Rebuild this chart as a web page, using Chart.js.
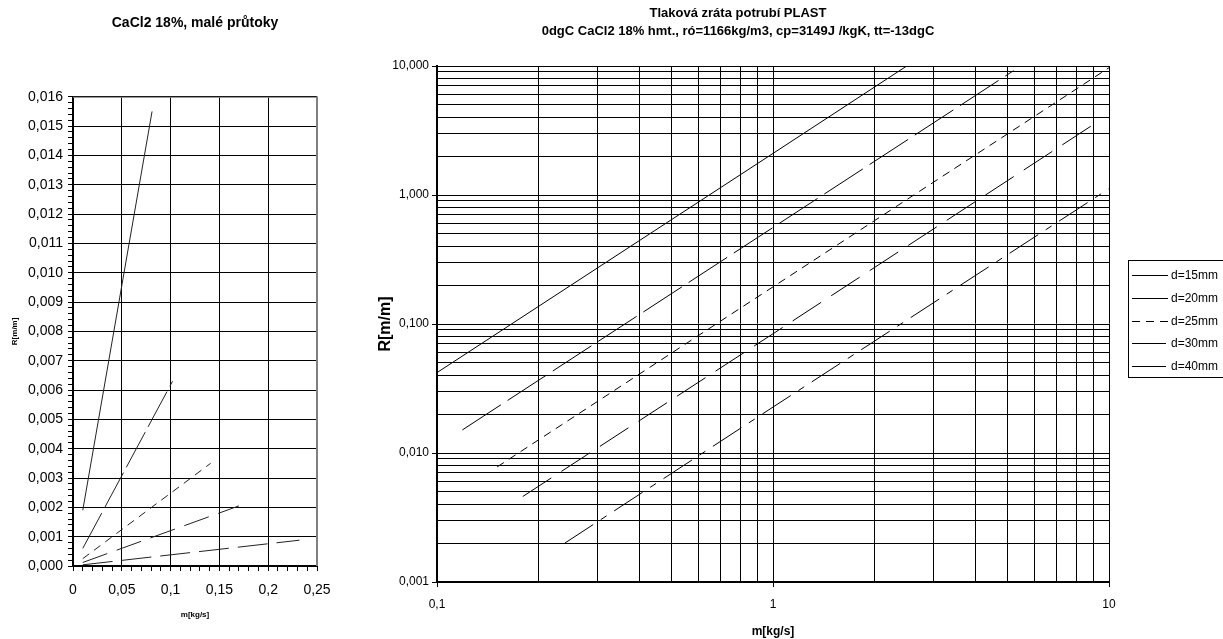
<!DOCTYPE html>
<html>
<head>
<meta charset="utf-8">
<script src="https://cdn.jsdelivr.net/npm/chart.js@4.4.1/dist/chart.umd.min.js"></script>
<style>
    html, body { margin: 0; padding: 0; background: #fff; }
    body { width: 1223px; height: 639px; position: relative; overflow: hidden; }
    #small-wrap { position: absolute; left: 0; top: 0; width: 330px; height: 639px; }
    #loss-wrap { position: absolute; left: 330px; top: 0; width: 893px; height: 639px; }
</style>
</head>
<body>
<div id="small-wrap"><canvas id="small-flow-chart"></canvas></div>
<div id="loss-wrap"><canvas id="loss-chart"></canvas></div>
<script>
const seriesLabels = ['d=15mm', 'd=20mm', 'd=25mm', 'd=30mm', 'd=40mm'];

const smallTitle = 'CaCl2 18%, malé průtoky';
const lossTitle = ['Tlaková zráta potrubí PLAST', '0dgC CaCl2 18% hmt., ró=1166kg/m3, cp=3149J /kgK, tt=-13dgC'];

// small flows, m[kg/s] -> R[m/m]
const smallM15 = [0.010, 0.081];
const smallR15 = [0.0019, 0.0155];
const smallM20 = [0.010, 0.102];
const smallR20 = [0.0006, 0.0063];
const smallM25 = [0.010, 0.141];
const smallR25 = [0.00025, 0.0035];
const smallM30 = [0.010, 0.170];
const smallR30 = [0.00012, 0.00205];
const smallM40 = [0.010, 0.232];
const smallR40 = [0.00004, 0.00088];

// pressure loss, log-log
const lossM15 = [0.1, 1, 2.5];
const lossR15 = [0.042, 2.1, 10];
const lossM20 = [0.119, 1, 5.2];
const lossR20 = [0.0151, 0.56, 9.2];
const lossM25 = [0.151, 1, 10];
const lossR25 = [0.0078, 0.194, 9.7];
const lossM30 = [0.18, 1, 9.2];
const lossR30 = [0.0046, 0.084, 3.66];
const lossM40 = [0.24, 1, 10];
const lossR40 = [0.002, 0.0227, 1.12];

const FONT = "'Liberation Sans', Arial, sans-serif";
Chart.defaults.font.family = FONT;
Chart.defaults.color = '#000';

const smallDash = [[], [40, 6], [8, 6], [26, 10], [30, 9]];
const lossDash = [[], [46, 8], [8, 6], [34, 12], [34, 9, 7, 9]];

function pts(xs, ys) {
    return xs.map((x, i) => ({ x, y: ys[i] }));
}

function isPow10(v) {
    const l = Math.log10(v);
    return Math.abs(l - Math.round(l)) < 1e-9;
}

function isWholeStep(v) {
    const m = v / Math.pow(10, Math.floor(Math.log10(v) + 1e-9));
    return Math.abs(m - Math.round(m)) < 1e-6;
}

function comma(str) {
    return str.replace('.', ',');
}

const smallFrame = {
    id: 'smallFrame',
    afterDraw(chart) {
        const { ctx, chartArea } = chart;
        ctx.save();
        ctx.strokeStyle = '#808080';
        ctx.lineWidth = 1;
        ctx.beginPath();
        ctx.moveTo(chartArea.left, chartArea.top + 0.5);
        ctx.lineTo(chartArea.right, chartArea.top + 0.5);
        ctx.stroke();
        ctx.lineWidth = 2;
        ctx.beginPath();
        ctx.moveTo(chartArea.right, chartArea.top);
        ctx.lineTo(chartArea.right, chartArea.bottom);
        ctx.stroke();
        ctx.restore();
    },
};

function initSmallFlowChart() {
    const series = [
        [smallM15, smallR15],
        [smallM20, smallR20],
        [smallM25, smallR25],
        [smallM30, smallR30],
        [smallM40, smallR40],
    ];

    new Chart(document.getElementById('small-flow-chart'), {
        type: 'scatter',
        data: {
            datasets: series.map(([m, r], i) => ({
                label: seriesLabels[i],
                data: pts(m, r),
                showLine: true,
                borderColor: '#222',
                borderWidth: 1,
                borderDash: smallDash[i],
                pointRadius: 0,
                fill: false,
            })),
        },
        options: {
            responsive: true,
            maintainAspectRatio: false,
            animation: false,
            layout: { padding: { right: 0 } },
            plugins: {
                legend: { display: false },
                tooltip: { enabled: false },
                title: {
                    display: true,
                    text: smallTitle,
                    fullSize: false,
                    color: '#000',
                    font: { size: 14, weight: 'bold' },
                    padding: { top: 15, bottom: 65 },
                },
            },
            scales: {
                x: {
                    type: 'linear',
                    min: 0,
                    max: 0.25,
                    afterFit: (s) => {
                        s.height = 73;
                        s.paddingRight = 13;
                    },
                    ticks: {
                        stepSize: 0.01,
                        autoSkip: false,
                        maxRotation: 0,
                        padding: 11,
                        font: { size: 14 },
                        callback: (v) => {
                            const n = Number(v);
                            if (Math.abs(n * 20 - Math.round(n * 20)) > 1e-6) {
                                return '';
                            }
                            return comma(String(Math.round(n * 100) / 100));
                        },
                    },
                    grid: {
                        color: (c) => (Math.abs(c.tick.value * 20 - Math.round(c.tick.value * 20)) < 1e-6 ? '#000' : 'rgba(0,0,0,0)'),
                        tickColor: '#000',
                        tickLength: 5,
                    },
                    border: { color: '#000', width: 2 },
                    title: {
                        display: true,
                        text: 'm[kg/s]',
                        font: { size: 8, weight: 'bold' },
                        padding: { top: 0, bottom: 19 },
                    },
                },
                y: {
                    type: 'linear',
                    min: 0,
                    max: 0.016,
                    afterFit: (s) => { s.width = 73; },
                    ticks: {
                        stepSize: 0.0002,
                        autoSkip: false,
                        padding: 5,
                        font: { size: 14 },
                        callback: (v) => {
                            const n = Number(v);
                            if (Math.abs(n * 1000 - Math.round(n * 1000)) > 1e-6) {
                                return '';
                            }
                            return comma(n.toFixed(3));
                        },
                    },
                    grid: {
                        color: (c) => (Math.abs(c.tick.value * 1000 - Math.round(c.tick.value * 1000)) < 1e-6 ? '#000' : 'rgba(0,0,0,0)'),
                        tickColor: '#000',
                        tickLength: 5,
                    },
                    border: { color: '#000', width: 2 },
                    title: {
                        display: true,
                        text: 'R[m/m]',
                        font: { size: 8, weight: 'bold' },
                        padding: { top: 10, bottom: 0 },
                    },
                },
            },
        },
        plugins: [smallFrame],
    });
}

const lossDecor = {
    id: 'lossDecor',
    afterDraw(chart) {
        const { ctx, chartArea } = chart;
        ctx.save();

        // title
        ctx.fillStyle = '#000';
        ctx.textAlign = 'center';
        ctx.textBaseline = 'middle';
        ctx.font = `bold 13px ${FONT}`;
        const cx = (chartArea.left + chartArea.right) / 2 - 35;
        lossTitle.forEach((line, i) => ctx.fillText(line, cx, 13 + i * 18));

        // legend box
        const left = chartArea.right + 19;
        const top = (chartArea.top + chartArea.bottom) / 2 - 64;
        ctx.strokeStyle = '#000';
        ctx.lineWidth = 1;
        ctx.strokeRect(left + 0.5, top + 0.5, chart.width - left + 5, 117);

        ctx.textAlign = 'left';
        ctx.font = `12px ${FONT}`;
        chart.data.datasets.forEach((ds, i) => {
            const y = Math.round(top + 15 + i * 22.75) + 0.5;
            ctx.setLineDash(ds.borderDash || []);
            ctx.beginPath();
            ctx.moveTo(left + 4, y);
            ctx.lineTo(left + 40, y);
            ctx.stroke();
            ctx.setLineDash([]);
            ctx.fillText(ds.label, left + 43, y);
        });
        ctx.restore();
    },
};

function initLossChart() {
    const series = [
        [lossM15, lossR15],
        [lossM20, lossR20],
        [lossM25, lossR25],
        [lossM30, lossR30],
        [lossM40, lossR40],
    ];

    new Chart(document.getElementById('loss-chart'), {
        type: 'scatter',
        data: {
            datasets: series.map(([m, r], i) => ({
                label: seriesLabels[i],
                data: pts(m, r),
                showLine: true,
                borderColor: '#000',
                borderWidth: 1,
                borderDash: lossDash[i],
                pointRadius: 0,
                fill: false,
            })),
        },
        options: {
            responsive: true,
            maintainAspectRatio: false,
            animation: false,
            layout: { padding: { top: 66, right: 114 } },
            plugins: {
                legend: { display: false },
                tooltip: { enabled: false },
            },
            scales: {
                x: {
                    type: 'logarithmic',
                    min: 0.1,
                    max: 10,
                    afterBuildTicks: (s) => { s.ticks = s.ticks.filter((t) => isWholeStep(t.value)); },
                    afterFit: (s) => { s.height = 57; },
                    ticks: {
                        autoSkip: false,
                        maxRotation: 0,
                        padding: 10,
                        font: { size: 12 },
                        callback: (v) => (isPow10(v) ? comma(String(v)) : ''),
                    },
                    grid: {
                        color: '#000',
                        tickColor: (c) => (isPow10(c.tick.value) ? '#000' : 'rgba(0,0,0,0)'),
                        tickLength: 5,
                    },
                    border: { color: '#000', width: 2 },
                    title: {
                        display: true,
                        text: 'm[kg/s]',
                        font: { size: 12, weight: 'bold' },
                        padding: { top: 0, bottom: 0 },
                    },
                },
                y: {
                    type: 'logarithmic',
                    min: 0.001,
                    max: 10,
                    afterBuildTicks: (s) => { s.ticks = s.ticks.filter((t) => isWholeStep(t.value)); },
                    afterFit: (s) => { s.width = 107; },
                    ticks: {
                        autoSkip: false,
                        padding: 3,
                        font: { size: 12 },
                        callback: (v) => (isPow10(v) ? comma(Number(v).toFixed(3)) : ''),
                    },
                    grid: {
                        color: '#000',
                        tickColor: (c) => (isPow10(c.tick.value) ? '#000' : 'rgba(0,0,0,0)'),
                        tickLength: 5,
                    },
                    border: { color: '#000', width: 2 },
                    title: {
                        display: true,
                        text: 'R[m/m]',
                        font: { size: 16, weight: 'bold' },
                        padding: { top: 46, bottom: 0 },
                    },
                },
            },
        },
        plugins: [lossDecor],
    });
}

initSmallFlowChart();
initLossChart();
</script>
</body>
</html>
